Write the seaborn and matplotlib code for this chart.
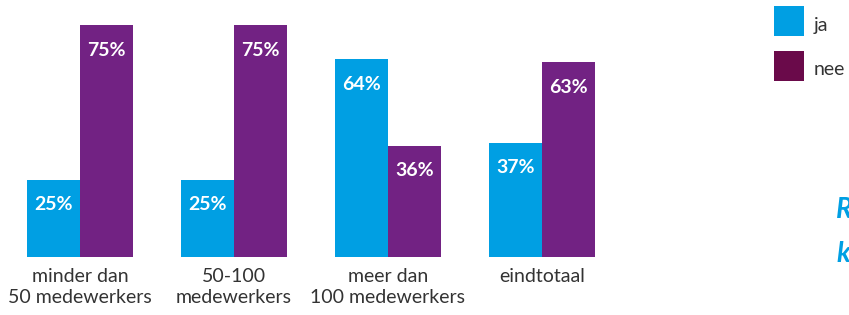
import matplotlib
matplotlib.use("Agg")
import matplotlib.pyplot as plt
from matplotlib.lines import Line2D
import pandas as pd
import seaborn as sns

# data
categories = ["minder dan\n50 medewerkers", "50-100\nmedewerkers", "meer dan\n100 medewerkers", "eindtotaal"]
series = ["ja", "nee"]
ja = [25, 25, 64, 37]
nee = [75, 75, 36, 63]

bar_colors = {"ja": "#009fe3", "nee": "#722283"}
legend_colors = {"ja": "#009fe3", "nee": "#6a0a4a"}

df = pd.DataFrame({
    "categorie": categories * 2,
    "antwoord": ["ja"] * len(ja) + ["nee"] * len(nee),
    "pct": ja + nee,
})

sns.set_style("white")
plt.rcParams["font.family"] = ["Lato", "DejaVu Sans"]

fig = plt.figure(figsize=(8.49, 3.15), dpi=100)
ax = fig.add_axes([0, 1 - 257 / 315, 620 / 849, 257 / 315])

sns.barplot(data=df, x="categorie", y="pct", hue="antwoord", hue_order=series,
            palette=bar_colors, width=0.69, saturation=1, linewidth=0,
            legend=False, ax=ax)

ax.set_xlim(-80 / 154, (620 - 80) / 154)
ax.set_ylim(0, 257 / (232 / 75))
for s in ax.spines.values():
    s.set_visible(False)
ax.set_xlabel("")
ax.set_ylabel("")
ax.set_yticks([])
ax.tick_params(axis="x", length=0, pad=8, labelsize=14, labelcolor="#333333")
for lbl in ax.get_xticklabels():
    lbl.set_linespacing(1.25)

# labels inside the top of each bar
for p in ax.patches:
    h = p.get_height()
    if h <= 0:
        continue
    ax.annotate(f"{h:.0f}%", (p.get_x() + p.get_width() / 2, h),
                xytext=(0, -18), textcoords="offset points",
                ha="center", va="center", color="white",
                fontsize=14, fontweight="bold")

# legend (square markers, 30 px)
handles = [Line2D([], [], marker="s", markersize=21.6, linestyle="none",
                  markerfacecolor=legend_colors[s], markeredgewidth=0, label=s)
           for s in series]
fig.legend(handles=handles, loc="upper left", bbox_to_anchor=(774 / 849, 1 - 12 / 315),
           frameon=False, fontsize=14, handlelength=1.55, handleheight=1.55,
           labelspacing=1.05, handletextpad=0.5, borderpad=0, borderaxespad=0,
           labelcolor="#333333")

# cut-off text at the right edge
fig.text(836 / 849, 1 - 210 / 315, "R", color="#009fe3", fontsize=20,
         fontweight="bold", fontstyle="italic", ha="left", va="center")
fig.text(836 / 849, 1 - 254 / 315, "k", color="#009fe3", fontsize=20,
         fontweight="bold", fontstyle="italic", ha="left", va="center")

fig.savefig("out.png", dpi=100)
